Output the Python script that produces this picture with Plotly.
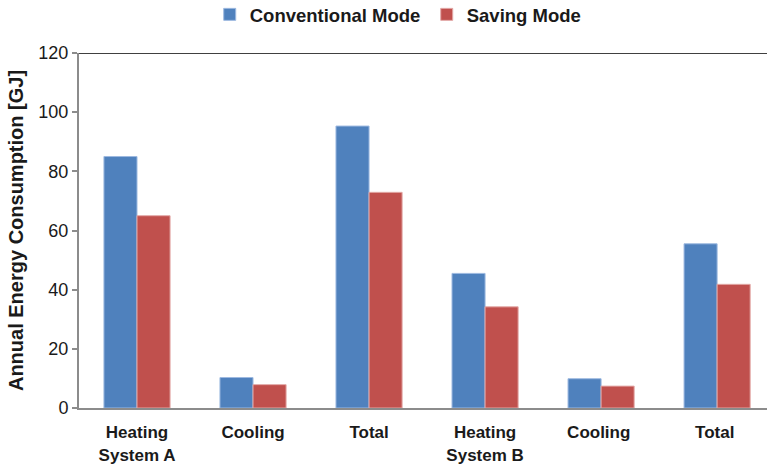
import plotly.graph_objects as go

# Annual energy consumption per system and mode [GJ]
categories = ["Heating<br>System A", "Cooling", "Total", "Heating<br>System B", "Cooling ", "Total "]
conventional = [85.0, 10.3, 95.3, 45.5, 9.9, 55.5]
saving = [65.0, 7.9, 72.9, 34.2, 7.4, 41.8]
y_ticks = [0, 20, 40, 60, 80, 100, 120]

BLUE = "#4F81BD"
RED = "#C0504D"
AXIS_GREY = "#8C8C8C"
TEXT = "#1A1A1A"
FONT = "Liberation Sans, Arial, sans-serif"

fig = go.Figure()
fig.add_trace(go.Bar(
    name="Conventional Mode", x=categories, y=conventional,
    marker=dict(color=BLUE, line=dict(color="#9DB9E0", width=1)),
))
fig.add_trace(go.Bar(
    name="Saving Mode", x=categories, y=saving,
    marker=dict(color=RED, line=dict(color="#E3A9A7", width=1)),
))

# black frame line along the top of the plot area
fig.add_shape(type="line", xref="paper", yref="y", x0=0, x1=1, y0=120, y1=120,
              line=dict(color="#000000", width=1.5), layer="above")

fig.update_layout(
    width=767, height=464,
    margin=dict(l=79, r=0, t=53, b=56),
    paper_bgcolor="white", plot_bgcolor="white",
    barmode="group", bargap=0.43, bargroupgap=0,
    font=dict(family=FONT, color=TEXT),
    legend=dict(
        orientation="h", x=0.19, xanchor="left",
        y=0.968, yref="container", yanchor="middle",
        font=dict(size=18.5, family=FONT, weight="bold", color=TEXT),
        itemwidth=30, traceorder="normal",
        entrywidth=172, entrywidthmode="pixels",
    ),
    xaxis=dict(
        range=[-0.5, 5.43], showgrid=False, showline=True, linecolor=AXIS_GREY, linewidth=2,
        ticks="", ticklabelstandoff=8,
        tickfont=dict(size=17, family=FONT, weight="bold", color=TEXT),
        zeroline=False, automargin=False,
    ),
    yaxis=dict(
        range=[0, 120], tickvals=y_ticks, showgrid=False, zeroline=False,
        showline=True, linecolor=AXIS_GREY, linewidth=2,
        ticks="outside", ticklen=5, tickcolor=AXIS_GREY, tickwidth=1.5,
        tickfont=dict(size=18, color=TEXT),
        title=dict(text="Annual Energy Consumption [GJ]", standoff=9,
                   font=dict(size=20, weight="bold", color=TEXT)),
    ),
)

fig.write_html("out.html")
